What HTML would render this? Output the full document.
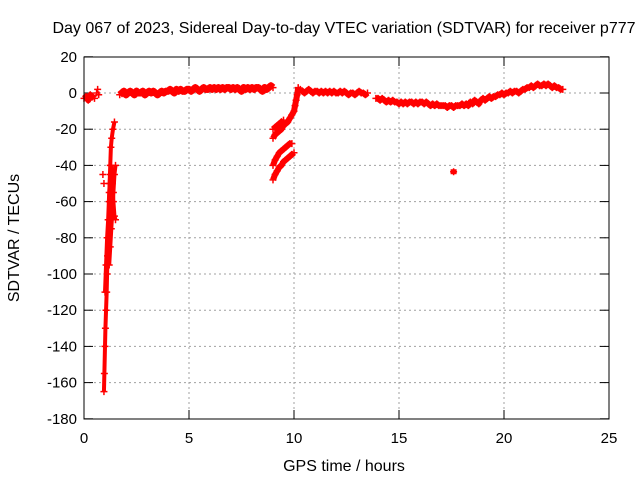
<!DOCTYPE html>
<html><head><meta charset="utf-8"><style>
body{margin:0;background:#fff}
svg text{font-family:"Liberation Sans",sans-serif;font-size:15px;fill:#000}
</style></head><body>
<svg id="c" width="640" height="480" xmlns="http://www.w3.org/2000/svg">
<text x="344" y="33" text-anchor="middle" style="font-size:16px">Day 067 of 2023, Sidereal Day-to-day VTEC variation (SDTVAR) for receiver p777</text>
<text x="344" y="471" text-anchor="middle" style="font-size:16px">GPS time / hours</text>
<text transform="translate(19,238) rotate(-90)" text-anchor="middle" style="font-size:16px">SDTVAR / TECUs</text>
<g id="grid"></g><g id="pts"></g>
<rect x="84" y="57" width="525" height="362" fill="none" stroke="#000"/>
</svg>
<script>
const xTicks=[0,5,10,15,20,25];
const yTicks=[20,0,-20,-40,-60,-80,-100,-120,-140,-160,-180];
const seg0X=[0,0.1,0.2,0.3,0.4,0.5];
const seg0Y=[-3,-2,-4,-1,-2,-3];
const isoX=[0.65,0.7,0.6];
const isoY=[2,-1,0];
const d1X=[0.95,0.97,1.0,1.02,1.05,1.08,1.1,1.12,1.15,1.18,1.2,1.22,1.25,1.28,1.32,1.38,1.45];
const d1Y=[-165,-155,-140,-130,-120,-110,-100,-90,-80,-70,-60,-50,-40,-30,-25,-20,-16];
const d2X=[0.9,0.95,1.0,1.05,1.1,1.15,1.2,1.25];
const d2Y=[-45,-50,-110,-95,-80,-70,-55,-45];
const d3X=[1.2,1.25,1.3,1.35,1.4,1.45,1.5];
const d3Y=[-95,-85,-75,-65,-55,-45,-40];
const d4X=[1.3,1.35,1.4,1.45,1.5];
const d4Y=[-40,-50,-60,-68,-70];
const flat1Y=[-1,0,1,-1,0,1,0,-1,1,0,0,1,-1,0,1,0,1,0,-1,0,1,0,1,1,2,1,0,2,1,2,1,1,2,2,1,2,3,2,1,2,3,2,2,3,2,3,2,3,2,3,2,3,3,2,3,2,3,2,1,3,2,3,2,3,2,3,3,2,1,3,2,3,4,3];
const a1X=[9.0,9.1,9.2,9.3,9.4,9.5,9.6,9.7,9.8,9.9,10.0];
const a1Y=[-48,-45,-43,-41,-40,-38,-37,-36,-35,-34,-33];
const a2X=[9.0,9.1,9.2,9.3,9.4,9.5,9.6,9.7,9.8,9.9];
const a2Y=[-40,-37,-35,-33,-32,-31,-30,-29,-28,-28];
const a3X=[9.0,9.1,9.2,9.3,9.4,9.5,9.6,9.7,9.8,9.9,10.0,10.05,10.1,10.15,10.2];
const a3Y=[-25,-23,-22,-21,-20,-18,-17,-16,-14,-12,-10,-7,-4,-1,3];
const a4X=[9.0,9.1,9.2,9.3,9.4,9.5];
const a4Y=[-20,-19,-18,-17,-16,-15];
const flat2Y=[2,1,0,1,2,1,0,1,1,0,1,0,1,0,1,0,1,0,0,1,0,1,0,-1,0,0,-1,0,1,0,0,-1,0];
const flat3Y=[-3,-3,-4,-3,-4,-5,-4,-5,-4,-5,-5,-6,-5,-6,-5,-6,-5,-5,-6,-5,-6,-5,-5,-6,-5,-6,-7,-6,-7,-6,-7,-7,-7,-7,-8,-7,-7,-8,-7,-7,-7,-6,-7,-6,-7,-5,-6,-4,-5,-6,-4,-3,-4,-3,-2,-3,-2,-2,-1,-1,0,-1,0,0,1,0,1,1,0,1,2,2,3,3,4,3,4,5,4,4,5,4,5,4,3,4,3,3,2,2];
const outX=[17.6];const outY=[-43.5];
const X=v=>84+v*21, Y=v=>93-v*1.81;
const ns="http://www.w3.org/2000/svg";
const g=document.getElementById('grid'),p=document.getElementById('pts');
function mk(t,a,par){const e=document.createElementNS(ns,t);for(const k in a)e.setAttribute(k,a[k]);par.appendChild(e);return e;}
xTicks.forEach(t=>{const x=X(t);
 if(t>0&&t<25){const l=mk('line',{x1:x,y1:57,x2:x,y2:419,stroke:'#a0a0a0','stroke-dasharray':'2,3'},g);}
 mk('line',{x1:x,y1:419,x2:x,y2:410,stroke:'#000'},g);mk('line',{x1:x,y1:57,x2:x,y2:66,stroke:'#000'},g);
 const tx=mk('text',{x:x,y:443,'text-anchor':'middle'},g);tx.textContent=t;});
yTicks.forEach(t=>{const y=Y(t);
 if(t<20&&t>-180){const l=mk('line',{x1:84,y1:y,x2:609,y2:y,stroke:'#a0a0a0','stroke-dasharray':'2,3'},g);}
 mk('line',{x1:84,y1:y,x2:93,y2:y,stroke:'#000'},g);mk('line',{x1:609,y1:y,x2:600,y2:y,stroke:'#000'},g);
 const tx=mk('text',{x:77,y:y+5,'text-anchor':'end'},g);tx.textContent=t;});
function plus(xv,yv){const x=X(xv),y=Y(yv);
 const e=mk('path',{d:`M${x-3.5},${y}h7M${x},${y-3.5}v7`,stroke:'#f00','stroke-width':1.5},p);
 }
function band(xs,ys,w){const pts=xs.map((x,i)=>X(x)+','+Y(ys[i])).join(' ');
 const e=mk('polyline',{points:pts,fill:'none',stroke:'#f00','stroke-width':w,'stroke-linejoin':'round'},p);
 }
function series(xs,ys,w){band(xs,ys,w);xs.forEach((x,i)=>plus(x,ys[i]));}
const f1X=flat1Y.map((_,i)=>1.7+i*0.1), f2X=flat2Y.map((_,i)=>10.3+i*0.1), f3X=flat3Y.map((_,i)=>13.9+i*0.1);
series(seg0X,seg0Y,6);
isoX.forEach((x,i)=>plus(x,isoY[i]));
series(d1X,d1Y,4);series(d2X.slice(2),d2Y.slice(2),4);d2X.slice(0,2).forEach((x,i)=>plus(x,d2Y[i]));
series(d3X,d3Y,4);series(d4X,d4Y,4);
series(f1X,flat1Y,7);
series(a1X,a1Y,6);series(a2X,a2Y,6);series(a3X,a3Y,6);series(a4X,a4Y,6);
series(f2X,flat2Y,6);
series(f3X,flat3Y,6);
outX.forEach((x,i)=>{plus(x,outY[i]);mk('rect',{x:X(x)-3,y:Y(outY[i])-2.5,width:6,height:5,fill:'#f00'},p);});
</script>
</body></html>
